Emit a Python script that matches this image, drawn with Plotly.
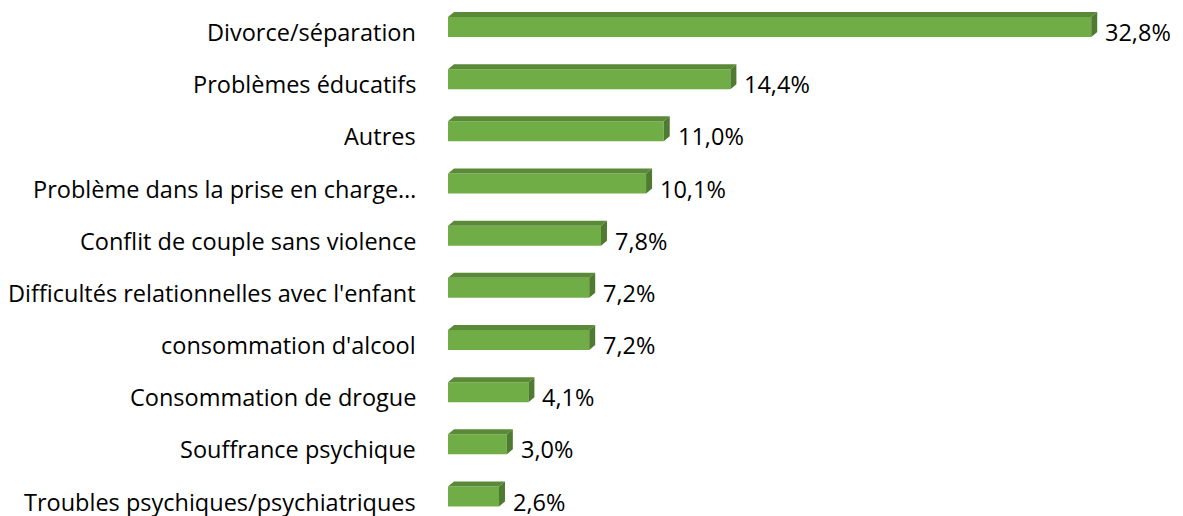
import plotly.graph_objects as go

categories = ["Divorce/séparation", "Problèmes éducatifs", "Autres",
              "Problème dans la prise en charge…", "Conflit de couple sans violence",
              "Difficultés relationnelles avec l'enfant", "consommation d'alcool",
              "Consommation de drogue", "Souffrance psychique",
              "Troubles psychiques/psychiatriques"]
values = [32.8, 14.4, 11.0, 10.1, 7.8, 7.2, 7.2, 4.1, 3.0, 2.6]
value_labels = ["32,8%", "14,4%", "11,0%", "10,1%", "7,8%", "7,2%", "7,2%", "4,1%", "3,0%", "2,6%"]

# page body has an 8px margin: figure sized to fill the remaining viewport
OFF = 8
W, H = 1183 - OFF, 516 - OFF
ML = 448 - OFF
X_MAX = 36.0
px_x = 19.6
MR = W - ML - X_MAX * px_x
c_first, c_last = 27 - OFF, 496.5 - OFF
px_y = (c_last - c_first) / 9
y_top = -c_first / px_y
y_bot = 9 + (H - c_last) / px_y

bar_w = 20 / px_y
dx = 6 / px_x
dy = 5 / px_y

FRONT = "#70AD47"
TOP = "#5A8A37"
SIDE = "#4F7B30"
FONT = "Open Sans"
FS = 23.5

ys = list(range(len(categories)))

fig = go.Figure()
fig.add_trace(go.Bar(x=values, y=ys, orientation="h", width=bar_w,
                     marker=dict(color=FRONT, line=dict(width=0)),
                     hoverinfo="skip"))

shapes = []
annotations = []
for i, (v, lab, cat) in enumerate(zip(values, value_labels, categories)):
    yt = i - bar_w / 2
    yb = i + bar_w / 2
    top_path = f"M 0,{yt} L {dx},{yt - dy} L {v + dx},{yt - dy} L {v},{yt} Z"
    side_path = f"M {v},{yt} L {v + dx},{yt - dy} L {v + dx},{yb - dy} L {v},{yb} Z"
    shapes.append(dict(type="path", path=top_path, xref="x", yref="y",
                       fillcolor=TOP, line=dict(width=0), layer="above"))
    shapes.append(dict(type="path", path=side_path, xref="x", yref="y",
                       fillcolor=SIDE, line=dict(width=0), layer="above"))
    annotations.append(dict(x=v + dx, y=i, xref="x", yref="y", text=lab,
                            showarrow=False, xanchor="left", yanchor="middle",
                            xshift=6, yshift=-5,
                            font=dict(family=FONT, size=FS, color="#000000")))
    annotations.append(dict(x=0, y=i, xref="x", yref="y", text=cat,
                            showarrow=False, xanchor="right", yanchor="middle",
                            xshift=-30, yshift=-5,
                            font=dict(family=FONT, size=FS, color="#000000")))

fig.update_layout(
    width=W, height=H,
    margin=dict(l=ML, r=MR, t=0, b=0, pad=0),
    paper_bgcolor="white", plot_bgcolor="white",
    showlegend=False,
    shapes=shapes, annotations=annotations,
    xaxis=dict(range=[0, X_MAX], visible=False, fixedrange=True),
    yaxis=dict(range=[y_bot, y_top], visible=False, fixedrange=True),
)

fig.write_html("out.html")
